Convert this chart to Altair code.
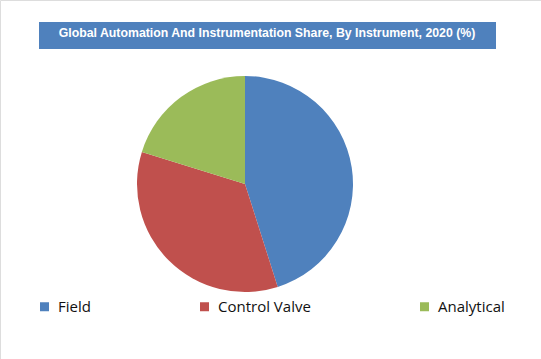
import altair as alt
import pandas as pd

# Share of instrument categories (%)
categories = ["Field", "Control Valve", "Analytical"]
shares = [45.1, 34.7, 20.2]
colors = ["#4F81BD", "#C0504D", "#9BBB59"]
title_text = "Global Automation And Instrumentation Share, By Instrument, 2020 (%)"

pie_df = pd.DataFrame({"Instrument": categories, "Share": shares, "idx": range(len(categories))})
title_df = pd.DataFrame({"t": [title_text]})

pie = (
    alt.Chart(pie_df)
    .mark_arc(outerRadius=108)
    .encode(
        theta=alt.Theta("Share:Q", stack=True),
        order=alt.Order("idx:Q"),
        color=alt.Color(
            "Instrument:N",
            scale=alt.Scale(domain=categories, range=colors),
            sort=categories,
            legend=alt.Legend(
                title=None,
                orient="none",
                direction="horizontal",
                legendX=37,
                legendY=299,
                symbolType="square",
                symbolSize=81,
                symbolStrokeWidth=0,
                labelFontSize=15,
                labelFont="Open Sans",
                labelColor="#111111",
                labelOffset=6,
                columnPadding=106,
            ),
        ),
        x=alt.value(245),
        y=alt.value(184),
    )
)

banner = (
    alt.Chart(title_df)
    .mark_rect(color="#4F81BD")
    .encode(x=alt.value(39), x2=alt.value(496), y=alt.value(22), y2=alt.value(49))
)

banner_text = (
    alt.Chart(title_df)
    .mark_text(
        color="white",
        font="Liberation Sans",
        fontWeight="bold",
        fontSize=12.3,
        align="center",
        baseline="alphabetic",
    )
    .encode(text="t:N", x=alt.value(267), y=alt.value(37))
)

chart = (
    alt.layer(banner, banner_text, pie)
    .properties(width=541, height=359, autosize=alt.AutoSizeParams(type="none"), padding=0)
    .configure_view(stroke=None)
    .configure(background="white")
)

chart.save("out.html", embed_options={"renderer": "svg", "actions": False})
